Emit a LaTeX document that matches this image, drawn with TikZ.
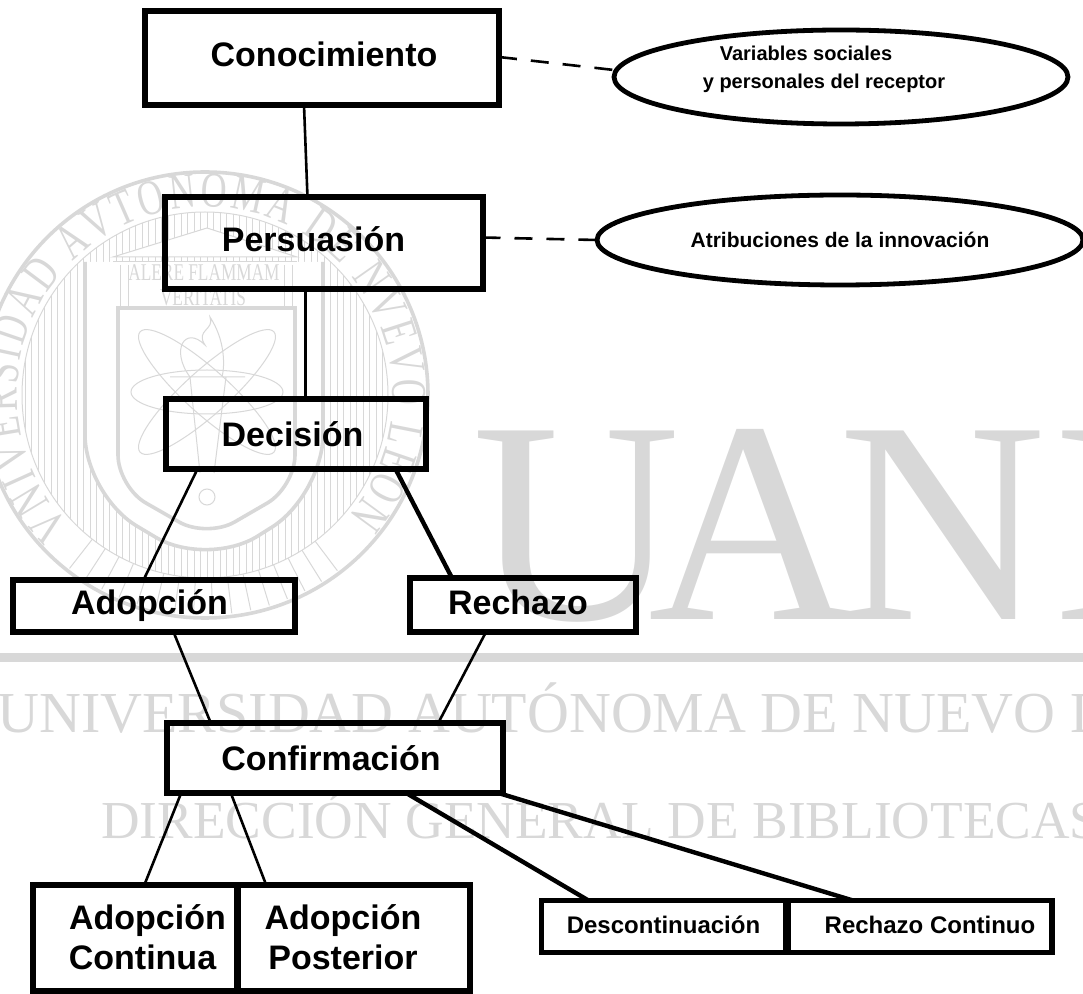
\documentclass[tikz,border=0pt]{standalone}
\usepackage{fontspec}
\setmainfont{Liberation Sans}
\newfontfamily\markfont{Liberation Serif}
\newfontfamily\sealfont[FakeStretch=0.72]{Liberation Serif}
\usetikzlibrary{calc}
\usetikzlibrary{shapes.geometric}
\usetikzlibrary{decorations.text}
\definecolor{markgray}{RGB}{216,216,216}
\newcommand{\nudge}[3]{\hspace*{#1}\raisebox{#2}{#3}\hspace*{-#1}}
\tikzset{
    stagebox/.style={draw=black, rectangle, line width=3pt, outer sep=0pt, inner sep=0pt, font=\bfseries\fontsize{17}{20}\selectfont, align=center},
    smallbox/.style={stagebox, line width=2.8pt, font=\bfseries\fontsize{12}{14}\selectfont},
    ovalbox/.style={draw=black, ellipse, line width=2.4pt, outer sep=0pt, inner sep=0pt, font=\bfseries\fontsize{10.5}{12}\selectfont},
    ovallabel/.style={inner sep=0pt, font=\bfseries\fontsize{10}{12}\selectfont},
    thinlink/.style={draw=black, line width=1.3pt},
    widelink/.style={draw=black, line width=2.2pt},
    dashlink/.style={draw=black, line width=1.3pt, dash pattern=on 9pt off 7pt},
    markline/.style={draw=markgray, line width=0.5pt},
    markthick/.style={draw=markgray, line width=1.8pt},
    marklabel/.style={text=markgray, inner sep=0pt, anchor=base west},
}
\begin{document}
\begin{tikzpicture}[x=0.5pt,y=-0.5pt]
        \useasboundingbox (0,0) rectangle (1083,994);
        \clip (0,0) rectangle (1083,994);

        % seal
        \coordinate (sealcentre) at (205,395);
        \begin{scope}
            \clip (sealcentre) circle (91.5pt);
            \foreach \hatchx in {25,31.5,...,385} {
                \draw[markline] (\hatchx,205) -- (\hatchx,590);
            }
        \end{scope}
        \foreach \rayangle in {232,237,...,308} {
            \draw[markline] ($(sealcentre)+(\rayangle:91.5pt)$) -- ($(sealcentre)+(\rayangle:110pt)$);
        }
        % shield
        \path[fill=white, draw=markgray, line width=1.8pt, rounded corners=30pt] (85,262) -- (85,495) -- (207,568) -- (323,495) -- (323,262);
        \fill[white] (85,262) rectangle (323,300);
        \fill[white] (113,257) -- (207,228) -- (297,257) -- cycle;
        \draw[markthick] (85,262) -- (85,300) (323,262) -- (323,300);
        \draw[markthick] (295,308) -- (118,308) [rounded corners=16pt] -- (118,487) -- (207,538) -- (295,487) [sharp corners] -- cycle;
        \draw[markthick] (sealcentre) circle (111.5pt);
        \draw[markline] (sealcentre) circle (91.5pt);
        \path[decorate, decoration={text along path, text align={fit to path}, text={|\color{markgray}\sealfont\fontsize{25}{25}\selectfont|VNIVERSIDAD AVTONOMA DE NVEVO LEON}}]
            ($(sealcentre)+(224:94pt)$) arc [start angle=224, end angle=-40, radius=94pt];
        % temple
        \draw[markline] (113,257) -- (207,228) -- (297,257) -- cycle;
        \draw[markline] (113,262) -- (297,262);
        \draw[markline] (120,265) -- (120,308) (128,265) -- (128,308);
        \draw[markline] (284,265) -- (284,308) (292,265) -- (292,308);
        \node[text=markgray, inner sep=0pt] (alere) at (204,273) {\sealfont\fontsize{12}{12}\selectfont ALERE FLAMMAM};
        \node[text=markgray, inner sep=0pt] (veritatis) at (203,298) {\sealfont\fontsize{12}{12}\selectfont VERITATIS};
        % atom and torch
        \draw[markline] (207,392) ellipse [x radius=76, y radius=22];
        \draw[markline, rotate around={42:(207,392)}] (207,392) ellipse [x radius=90, y radius=22];
        \draw[markline, rotate around={-42:(207,392)}] (207,392) ellipse [x radius=90, y radius=22];
        \draw[markline] (190,377) .. controls (170,350) and (185,325) .. (205,345) .. controls (195,330) and (215,330) .. (210,317) .. controls (225,340) and (225,365) .. (222,377);
        \draw[markline] (170,377) -- (245,377) (190,377) -- (200,473) (226,377) -- (214,473);
        \draw[markline] (207,497) circle (4pt);

        % big letters
        \node[marklabel] (uanl) at (472,620) {\markfont\fontsize{144}{144}\selectfont U\kern-16pt A\kern-9pt N\kern4pt L};
        \fill[markgray] (0,653) rectangle (1083,662);
        \node[marklabel] (universidad) at (-3,733) {\markfont\fontsize{29}{29}\selectfont UNIVERSIDAD AUTÓNOMA DE NUEVO LEÓN};
        \node[marklabel] (direccion) at (101,838) {\markfont\fontsize{26.7}{27}\selectfont DIRECCIÓN GENERAL DE BIBLIOTECAS};

        % stages
        \node[stagebox, minimum width=177pt, minimum height=47pt] (conocimiento) at (322,58) {\nudge{1pt}{4pt}{Conocimiento}};
        \node[stagebox, minimum width=159pt, minimum height=46pt] (persuasion) at (323.5,243.5) {\nudge{-5pt}{4pt}{Persuasión}};
        \node[stagebox, minimum width=130pt, minimum height=35pt] (decision) at (295.5,434) {\nudge{-1.5pt}{-2pt}{Decisión}};
        \node[stagebox, minimum width=141pt, minimum height=26pt] (adopcion) at (153.5,606) {\nudge{-2pt}{3pt}{Adopción}};
        \node[stagebox, minimum width=113pt, minimum height=27pt] (rechazo) at (523,605) {\nudge{-2.5pt}{2.5pt}{Rechazo}};
        \node[stagebox, minimum width=168pt, minimum height=35pt] (confirmacion) at (335,758.5) {\nudge{-2pt}{-2pt}{Confirmación}};

        % bottom row
        \node[stagebox, minimum width=102pt, minimum height=53pt] (continua) at (134.5,937.5) {\nudge{6.5pt}{0pt}{Adopción}\\\nudge{4pt}{0pt}{Continua}};
        \node[stagebox, minimum width=116pt, minimum height=53pt] (posterior) at (354,937.5) {\nudge{-5.5pt}{0pt}{Adopción}\\\nudge{-5.5pt}{0pt}{Posterior}};
        \node[smallbox, minimum width=122pt, minimum height=26pt] (descontinuacion) at (663.5,926.5) {\nudge{0pt}{1.5pt}{Descontinuación}};
        \node[smallbox, minimum width=132pt, minimum height=26pt] (rechazocontinuo) at (920,926.5) {\nudge{5pt}{1.5pt}{Rechazo Continuo}};

        % ovals
        \node[ovalbox, minimum width=227pt, minimum height=47pt] (variablesoval) at (841,77) {};
        \node[ovallabel] (variables) at (806,53) {Variables sociales};
        \node[ovallabel] (personales) at (824,83) {y personales del receptor};
        \node[ovalbox, minimum width=243pt, minimum height=45pt] (atribuciones) at (840,240) {Atribuciones de la innovación};

        % links
        \draw[thinlink] ([xshift=-9pt]conocimiento.south) -- ([xshift=-8pt]persuasion.north);
        \draw[thinlink] ([xshift=-9pt]persuasion.south) -- ([xshift=5pt]decision.north);
        \draw[thinlink] ([xshift=-49pt]decision.south) -- ([xshift=-5pt]adopcion.north);
        \draw[widelink] ([xshift=50pt]decision.south) -- ([xshift=-35.5pt]rechazo.north);
        \draw[thinlink] ([xshift=10pt]adopcion.south) -- ([xshift=-62pt]confirmacion.north);
        \draw[thinlink] ([xshift=-18.5pt]rechazo.south) -- ([xshift=51.5pt]confirmacion.north);
        \draw[thinlink] ([xshift=-77pt]confirmacion.south) -- ([xshift=5pt]continua.north);
        \draw[thinlink] ([xshift=-52pt]confirmacion.south) -- ([xshift=-44pt]posterior.north);
        \draw[widelink] ([xshift=36pt]confirmacion.south) -- ([xshift=-37.5pt]descontinuacion.north);
        \draw[widelink] ([xshift=82.5pt]confirmacion.south) -- ([xshift=-33.5pt]rechazocontinuo.north);
        \draw[dashlink] ([yshift=0.5pt]conocimiento.east) -- ([yshift=3.5pt]variablesoval.west);
        \draw[dashlink] ([yshift=3pt]persuasion.east) -- (atribuciones.west);
\end{tikzpicture}
\end{document}
